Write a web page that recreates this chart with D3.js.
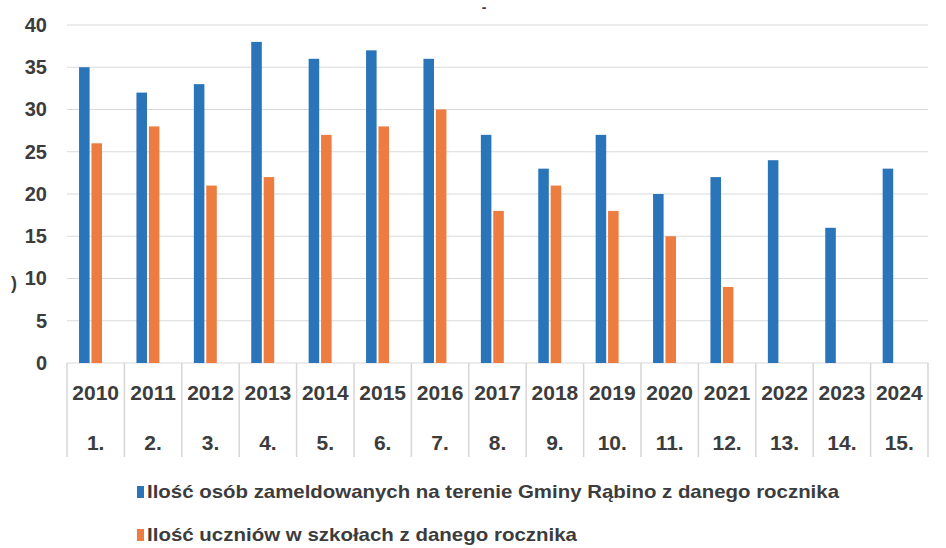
<!DOCTYPE html>
<html>
<head>
<meta charset="utf-8">
<script src="https://cdn.jsdelivr.net/npm/d3@7"></script>
<style>
  body { margin: 0; background: #fff; }
  svg text { font-family: "Liberation Sans Narrow", "Liberation Sans", "Open Sans", sans-serif; fill: #3c3c3c; }
</style>
</head>
<body>
<svg width="946" height="548"></svg>
<script>
// data
const years = ['2010','2011','2012','2013','2014','2015','2016','2017','2018','2019','2020','2021','2022','2023','2024'];
const ordinals = ['1.','2.','3.','4.','5.','6.','7.','8.','9.','10.','11.','12.','13.','14.','15.'];
const registered = [35, 32, 33, 38, 36, 37, 36, 27, 23, 27, 20, 22, 24, 16, 23];
const pupils = [26, 28, 21, 22, 27, 28, 30, 18, 21, 18, 15, 9, null, null, null];
const seriesNames = [
  'Ilość osób zameldowanych na terenie Gminy Rąbino z danego rocznika',
  'Ilość uczniów w szkołach z danego rocznika'
];
const colors = ['#2a74b9', '#ec7c3f'];
const yTicks = [0, 5, 10, 15, 20, 25, 30, 35, 40];

const svg = d3.select('svg');

// plot area
const margin = { top: 25, left: 67, right: 18 };
const plotBottom = 363;
const plotRight = 946 - margin.right;

const x = d3.scaleBand()
    .domain(years)
    .range([margin.left, plotRight]);

const bw = x.bandwidth();
const x1 = d3.scaleBand()
    .domain([0, 1])
    .range([bw * 0.21, bw * 0.61])
    .paddingInner(0.15);

const y = d3.scaleLinear()
    .domain([0, 40])
    .range([plotBottom, margin.top]);

// gridlines
svg.append('g')
    .selectAll('line')
    .data(yTicks)
    .enter().append('line')
        .attr('x1', margin.left)
        .attr('x2', plotRight)
        .attr('y1', d => y(d))
        .attr('y2', d => y(d))
        .attr('stroke', '#dadada')
        .attr('stroke-width', 1.2);

// y axis labels
const yAxis = svg.append('g')
    .attr('transform', `translate(${margin.left - 20},0)`)
    .call(d3.axisLeft(y).tickValues(yTicks).tickSize(0).tickPadding(0));
yAxis.select('.domain').remove();
yAxis.selectAll('text')
    .attr('font-size', 20)
    .attr('font-weight', 'bold')
    .attr('fill', '#3c3c3c')
    .style('font-family', '"Liberation Sans", sans-serif');

// bars
const rows = years.map((yr, i) => ({ year: yr, vals: [registered[i], pupils[i]] }));
const groups = svg.append('g')
    .selectAll('g')
    .data(rows)
    .enter().append('g')
        .attr('transform', d => `translate(${x(d.year)},0)`);

groups.selectAll('rect')
    .data(d => d.vals.map((v, s) => ({ v, s })).filter(e => e.v != null))
    .enter().append('rect')
        .attr('x', d => x1(d.s))
        .attr('y', d => y(d.v))
        .attr('width', x1.bandwidth())
        .attr('height', d => plotBottom - y(d.v))
        .attr('fill', d => colors[d.s]);

// multi-level category table under the axis
const tableBottom = 457;
const edges = years.map(d => x(d)).concat([plotRight]);
svg.append('g')
    .selectAll('line')
    .data(edges)
    .enter().append('line')
        .attr('x1', d => d)
        .attr('x2', d => d)
        .attr('y1', plotBottom)
        .attr('y2', tableBottom)
        .attr('stroke', '#d6d6d6')
        .attr('stroke-width', 1.5);

svg.append('g')
    .selectAll('text')
    .data(years)
    .enter().append('text')
        .attr('x', d => x(d) + bw / 2)
        .attr('y', 400)
        .attr('text-anchor', 'middle')
        .attr('font-size', 21)
        .attr('font-weight', 'bold')
        .style('font-family', '"Liberation Sans", sans-serif')
        .text(d => d);

svg.append('g')
    .selectAll('text')
    .data(ordinals)
    .enter().append('text')
        .attr('x', (d, i) => x(years[i]) + bw / 2)
        .attr('y', 450)
        .attr('text-anchor', 'middle')
        .attr('font-size', 21)
        .attr('font-weight', 'bold')
        .style('font-family', '"Liberation Sans", sans-serif')
        .text(d => d);

// legend
const legendY = [492, 535];
const legendLen = [692, 430];
const legend = svg.append('g')
    .selectAll('g')
    .data(seriesNames)
    .enter().append('g')
        .attr('transform', (d, i) => `translate(137,${legendY[i]})`);

legend.append('rect')
    .attr('x', 0)
    .attr('y', -6)
    .attr('width', 7)
    .attr('height', 12)
    .attr('fill', (d, i) => colors[i]);

legend.append('text')
    .attr('x', 10)
    .attr('y', 6)
    .attr('font-size', 19)
    .attr('font-weight', 'bold')
    .attr('textLength', (d, i) => legendLen[i])
    .attr('lengthAdjust', 'spacingAndGlyphs')
    .text(d => d);

// stray scan marks
svg.append('text').attr('x', 484).attr('y', 12).attr('text-anchor', 'middle')
    .attr('font-size', 14).attr('font-weight', 'bold').attr('fill', '#111').text('-');
svg.append('text').attr('x', 14).attr('y', 289).attr('text-anchor', 'middle')
    .attr('font-size', 18).attr('font-weight', 'bold').attr('fill', '#111').text(')');
</script>
</body>
</html>
